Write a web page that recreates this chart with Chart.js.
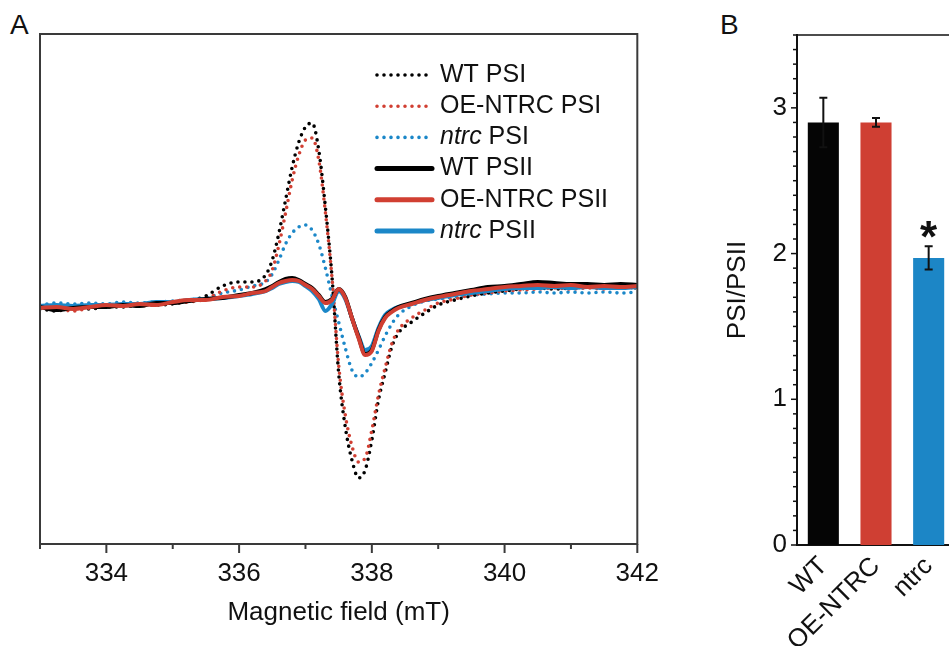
<!DOCTYPE html>
<html>
<head>
<meta charset="utf-8">
<script src="https://cdn.jsdelivr.net/npm/chart.js@4.4.1/dist/chart.umd.min.js"></script>
<style>
  html, body { margin: 0; padding: 0; background: #fff; }
  body { width: 949px; height: 646px; overflow: hidden; position: relative; font-family: 'Liberation Sans', Arial, sans-serif; }
  canvas { position: absolute; top: 0; }
  #epr { left: 0; }
  #ratio { left: 700px; }
  .panel { position: absolute; font-size: 28px; line-height: 28px; color: #111; }
</style>
</head>
<body>
<div class="panel" style="left:10px;top:11px">A</div>
<div class="panel" style="left:720px;top:11px">B</div>
<canvas id="epr" width="673" height="646"></canvas>
<canvas id="ratio" width="265" height="646"></canvas>
<script>
// field axis (mT)
const fieldMT = [333.0, 333.25, 333.5, 333.75, 334.0, 334.25, 334.5, 334.75, 335.0, 335.25,
  335.5, 335.75, 336.0, 336.2, 336.4, 336.5, 336.6, 336.7, 336.8, 336.9,
  337.0, 337.1, 337.2, 337.3, 337.4, 337.5, 337.6, 337.7, 337.8, 337.9,
  338.0, 338.1, 338.2, 338.3, 338.4, 338.6, 338.8, 339.0, 339.25, 339.5,
  339.75, 340.0, 340.25, 340.5, 340.75, 341.0, 341.25, 341.5, 341.75, 342.0];

// EPR signal, arbitrary units
const wtPSI = [0.01, -0.01, 0.02, 0.01, 0.03, 0.03, 0.05, 0.05, 0.06, 0.09,
  0.14, 0.24, 0.28, 0.28, 0.35, 0.50, 0.77, 1.10, 1.43, 1.68,
  1.83, 1.87, 1.60, 1.03, 0.33, -0.63, -1.17, -1.50, -1.68, -1.60,
  -1.30, -0.90, -0.63, -0.37, -0.23, -0.12, -0.03, 0.05, 0.10, 0.14,
  0.17, 0.19, 0.21, 0.22, 0.21, 0.22, 0.23, 0.22, 0.23, 0.22];
const oePSI = [0.02, 0.01, -0.01, 0.02, 0.03, 0.04, 0.04, 0.06, 0.07, 0.08,
  0.11, 0.19, 0.23, 0.23, 0.29, 0.40, 0.65, 0.97, 1.30, 1.55,
  1.70, 1.72, 1.50, 0.98, 0.32, -0.55, -1.05, -1.36, -1.52, -1.48,
  -1.20, -0.85, -0.58, -0.34, -0.20, -0.08, 0.00, 0.07, 0.11, 0.15,
  0.17, 0.19, 0.20, 0.21, 0.22, 0.21, 0.22, 0.21, 0.23, 0.22];
const ntrcPSI = [0.05, 0.07, 0.06, 0.07, 0.06, 0.08, 0.07, 0.08, 0.09, 0.10,
  0.12, 0.17, 0.20, 0.24, 0.28, 0.36, 0.50, 0.66, 0.77, 0.83,
  0.85, 0.80, 0.66, 0.42, 0.14, -0.12, -0.38, -0.60, -0.67, -0.63,
  -0.53, -0.40, -0.26, -0.14, -0.05, 0.04, 0.09, 0.11, 0.13, 0.15,
  0.16, 0.17, 0.17, 0.18, 0.17, 0.18, 0.17, 0.18, 0.17, 0.18];
const wtPSII = [0.03, 0.00, 0.02, 0.03, 0.03, 0.05, 0.04, 0.07, 0.07, 0.09,
  0.11, 0.12, 0.15, 0.17, 0.21, 0.24, 0.28, 0.31, 0.32, 0.30,
  0.26, 0.22, 0.15, 0.08, 0.11, 0.21, 0.13, -0.08, -0.27, -0.44,
  -0.40, -0.20, -0.07, -0.01, 0.03, 0.07, 0.11, 0.14, 0.17, 0.20,
  0.23, 0.24, 0.26, 0.28, 0.27, 0.26, 0.26, 0.25, 0.26, 0.25];
const oePSII = [0.02, 0.03, 0.01, 0.03, 0.05, 0.04, 0.06, 0.05, 0.08, 0.10,
  0.10, 0.13, 0.14, 0.17, 0.19, 0.23, 0.27, 0.29, 0.30, 0.29,
  0.25, 0.21, 0.14, 0.07, 0.10, 0.21, 0.12, -0.08, -0.28, -0.45,
  -0.41, -0.21, -0.08, -0.02, 0.02, 0.06, 0.10, 0.13, 0.16, 0.19,
  0.21, 0.23, 0.24, 0.25, 0.24, 0.25, 0.23, 0.24, 0.23, 0.24];
const ntrcPSII = [0.04, 0.05, 0.04, 0.05, 0.05, 0.06, 0.06, 0.08, 0.08, 0.10,
  0.11, 0.12, 0.14, 0.16, 0.19, 0.22, 0.26, 0.28, 0.29, 0.28,
  0.24, 0.19, 0.11, -0.01, 0.06, 0.19, 0.11, -0.08, -0.26, -0.40,
  -0.36, -0.18, -0.05, 0.00, 0.03, 0.06, 0.10, 0.12, 0.15, 0.17,
  0.19, 0.21, 0.22, 0.22, 0.23, 0.22, 0.23, 0.22, 0.22, 0.23];

// panel B
const groups = ['WT', 'OE-NTRC', 'ntrc'];
const ratio = [2.90, 2.90, 1.97];
const ratioErr = [0.17, 0.03, 0.08];
const signif = ['', '', '*'];

const legendOrder = ['WT PSI', 'OE-NTRC PSI', 'ntrc PSI', 'WT PSII', 'OE-NTRC PSII', 'ntrc PSII'];

const BLACK = '#000000';
const RED = '#d13f32';
const BLUE = '#1b87c8';
const FONT = "'Liberation Sans', Arial, Helvetica, sans-serif";
const TEXT = '#111111';

Chart.defaults.font.family = FONT;
Chart.defaults.color = TEXT;

const pts = ys => fieldMT.map((x, i) => ({ x: x, y: ys[i] }));

const solid = (label, ys, color) => ({
  label, data: pts(ys), borderColor: color, borderWidth: 4,
  pointRadius: 0, cubicInterpolationMode: 'monotone', borderJoinStyle: 'round', borderCapStyle: 'round'
});
const dotted = (label, ys, color) => ({
  label, data: pts(ys), borderColor: color, borderWidth: 3.6, borderDash: [0, 7],
  pointRadius: 0, cubicInterpolationMode: 'monotone', borderCapStyle: 'round'
});

// tick marks drawn by hand so major/minor can have different lengths
const tickMarks = {
  id: 'tickMarks',
  afterDraw(chart, args, opts) {
    const scale = chart.scales[opts.axis];
    const ctx = chart.ctx;
    ctx.save();
    ctx.strokeStyle = opts.color;
    ctx.lineWidth = opts.width;
    scale.ticks.forEach(t => {
      const r = t.value / opts.majorStep;
      const len = Math.abs(r - Math.round(r)) < 1e-6 ? opts.major : opts.minor;
      const p = scale.getPixelForValue(t.value);
      ctx.beginPath();
      if (scale.isHorizontal()) {
        ctx.moveTo(p, scale.top); ctx.lineTo(p, scale.top + len);
      } else {
        ctx.moveTo(scale.right, p); ctx.lineTo(scale.right - len, p);
      }
      ctx.stroke();
    });
    ctx.restore();
  }
};

const frameBox = {
  id: 'frameBox',
  afterDraw(chart) {
    const a = chart.chartArea, ctx = chart.ctx;
    ctx.save();
    ctx.strokeStyle = '#3a3a3a';
    ctx.lineWidth = 2;
    ctx.strokeRect(a.left, a.top, a.right - a.left, a.bottom - a.top);
    ctx.restore();
  }
};

const legendBox = {
  id: 'legendBox',
  afterDraw(chart) {
    const ctx = chart.ctx;
    ctx.save();
    ctx.textBaseline = 'middle';
    legendOrder.forEach((name, i) => {
      const ds = chart.data.datasets.find(d => d.label === name);
      const y = 75 + i * 31.2;
      ctx.beginPath();
      ctx.strokeStyle = ds.borderColor;
      ctx.lineWidth = ds.borderDash ? 3.6 : 5;
      ctx.lineCap = 'round';
      ctx.setLineDash(ds.borderDash || []);
      ctx.moveTo(377, y); ctx.lineTo(432, y);
      ctx.stroke();
      ctx.setLineDash([]);
      ctx.fillStyle = TEXT;
      let x = 440;
      let rest = name;
      if (name.startsWith('ntrc')) {
        ctx.font = 'italic 25px ' + FONT;
        ctx.fillText('ntrc', x, y);
        x += ctx.measureText('ntrc').width;
        rest = name.slice(4);
      }
      ctx.font = '25px ' + FONT;
      ctx.fillText(rest, x, y);
    });
    ctx.restore();
  }
};

new Chart(document.getElementById('epr'), {
  type: 'line',
  data: {
    datasets: [
      solid('OE-NTRC PSII', oePSII, RED),
      solid('WT PSII', wtPSII, BLACK),
      solid('ntrc PSII', ntrcPSII, BLUE),
      dotted('OE-NTRC PSI', oePSI, RED),
      dotted('WT PSI', wtPSI, BLACK),
      dotted('ntrc PSI', ntrcPSI, BLUE)
    ]
  },
  options: {
    responsive: false,
    animation: false,
    layout: { padding: { left: 40, top: 34, right: 23, bottom: 0 } },
    plugins: {
      legend: { display: false },
      tooltip: { enabled: false },
      tickMarks: { axis: 'x', majorStep: 2, major: 9, minor: 5, color: '#3a3a3a', width: 2 }
    },
    scales: {
      x: {
        type: 'linear', min: 333, max: 342,
        grid: { display: false, drawTicks: false },
        border: { display: false },
        ticks: {
          stepSize: 1, autoSkip: false, maxRotation: 0, padding: 14,
          font: { size: 26 }, color: TEXT,
          callback: v => (v % 2 === 0 ? String(v) : '')
        },
        title: { display: true, text: 'Magnetic field (mT)', font: { size: 26 }, color: TEXT, padding: { top: 0, bottom: 18 } },
        afterFit: s => { s.height = 102; }
      },
      y: { display: false, min: -2.34, max: 2.76 }
    }
  },
  plugins: [frameBox, tickMarks, legendBox]
});

const barExtras = {
  id: 'barExtras',
  afterDatasetsDraw(chart) {
    const ctx = chart.ctx, y = chart.scales.y;
    const meta = chart.getDatasetMeta(0);
    ctx.save();
    ctx.strokeStyle = TEXT;
    ctx.lineWidth = 2;
    meta.data.forEach((bar, i) => {
      const top = y.getPixelForValue(ratio[i] + ratioErr[i]);
      const bot = y.getPixelForValue(ratio[i] - ratioErr[i]);
      ctx.beginPath();
      ctx.moveTo(bar.x, top); ctx.lineTo(bar.x, bot);
      ctx.moveTo(bar.x - 4, top); ctx.lineTo(bar.x + 4, top);
      ctx.moveTo(bar.x - 4, bot); ctx.lineTo(bar.x + 4, bot);
      ctx.stroke();
      if (signif[i]) {
        ctx.fillStyle = TEXT;
        ctx.font = 'bold 44px ' + FONT;
        ctx.textAlign = 'center';
        ctx.textBaseline = 'alphabetic';
        ctx.fillText(signif[i], bar.x, top + 6);
      }
    });
    // top edge of the frame
    const a = chart.chartArea;
    ctx.lineWidth = 1.5;
    ctx.beginPath();
    ctx.moveTo(a.left, a.top); ctx.lineTo(chart.width, a.top);
    ctx.stroke();
    ctx.restore();
  }
};

new Chart(document.getElementById('ratio'), {
  type: 'bar',
  data: {
    labels: groups,
    datasets: [{
      data: ratio,
      backgroundColor: ['#050505', '#cf3f33', '#1c86c6'],
      barPercentage: 0.59,
      categoryPercentage: 1.0
    }]
  },
  options: {
    responsive: false,
    animation: false,
    layout: { padding: { left: 0, top: 35, right: 10, bottom: 0 } },
    plugins: {
      legend: { display: false },
      tooltip: { enabled: false },
      tickMarks: { axis: 'y', majorStep: 1, major: 6, minor: 4, color: TEXT, width: 1.5 }
    },
    scales: {
      x: {
        grid: { display: false, drawTicks: false },
        border: { display: true, color: TEXT, width: 2 },
        ticks: { minRotation: 45, maxRotation: 45, padding: 6, font: { size: 26 }, color: TEXT },
        afterFit: s => { s.height = 101; }
      },
      y: {
        min: 0, max: 3.5,
        grid: { display: false, drawTicks: false },
        border: { display: true, color: TEXT, width: 2 },
        ticks: {
          stepSize: 0.1, autoSkip: false, maxTicksLimit: 100, padding: 10,
          font: { size: 26 }, color: TEXT,
          callback: v => (Math.abs(v - Math.round(v)) < 1e-6 ? String(Math.round(v)) : '')
        },
        title: { display: true, text: 'PSI/PSII', font: { size: 26 }, color: TEXT, padding: { top: 22, bottom: 0 } },
        afterFit: s => { s.width = 97; }
      }
    }
  },
  plugins: [tickMarks, barExtras]
});
</script>
</body>
</html>
